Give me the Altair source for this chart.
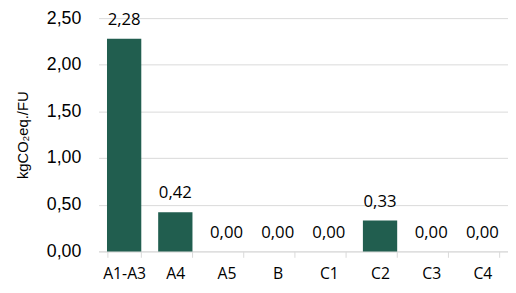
import altair as alt
import pandas as pd

categories = ["A1-A3", "A4", "A5", "B", "C1", "C2", "C3", "C4"]
values = [2.28, 0.42, 0.00, 0.00, 0.00, 0.33, 0.00, 0.00]

df = pd.DataFrame({"stage": categories, "value": values})

base = alt.Chart(df).encode(
    x=alt.X(
        "stage:N",
        sort=categories,
        title=None,
        scale=alt.Scale(paddingInner=0.33, paddingOuter=0.165),
        axis=alt.Axis(
            labelAngle=0,
            labelFont="Open Sans",
            labelFontSize=16,
            labelColor="#000000",
            labelPadding=9,
            domainColor="#d9d9d9",
            tickColor="#d9d9d9",
            tickSize=6,
            tickBand="extent",
            grid=False,
        ),
    ),
    y=alt.Y(
        "value:Q",
        scale=alt.Scale(domain=[0, 2.5], nice=False),
        title="kgCO₂eq./FU",
        axis=alt.Axis(
            values=[0, 0.5, 1.0, 1.5, 2.0, 2.5],
            labelExpr="replace(format(datum.value, '.2f'), '.', ',')",
            labelFont="Liberation Sans",
            labelFontSize=18,
            labelColor="#000000",
            labelPadding=18,
            tickSize=0,
            domain=False,
            gridColor="#d9d9d9",
            gridWidth=1,
            titleFont="Liberation Sans",
            titleFontSize=15,
            titleFontWeight="normal",
            titleColor="#000000",
            titleAngle=-90,
            titleX=-77,
            titleY=118.5,
            titleAlign="center",
            titleBaseline="middle",
        ),
    ),
)

bars = base.mark_bar(color="#215E4F")

labels = base.transform_calculate(
    label="replace(format(datum.value, '.2f'), '.', ',')"
).mark_text(
    font="Open Sans", fontSize=17, color="#000000", baseline="middle", dy=-19
).encode(text="label:N")

chart = (
    (bars + labels)
    .properties(
        width=416,
        height=237,
        autosize=alt.AutoSizeParams(type="none"),
        padding={"left": 92, "top": 8, "right": 0, "bottom": 40},
    )
    .configure_view(stroke=None)
)

chart.save("out.html", embed_options={"renderer": "svg", "actions": False})
